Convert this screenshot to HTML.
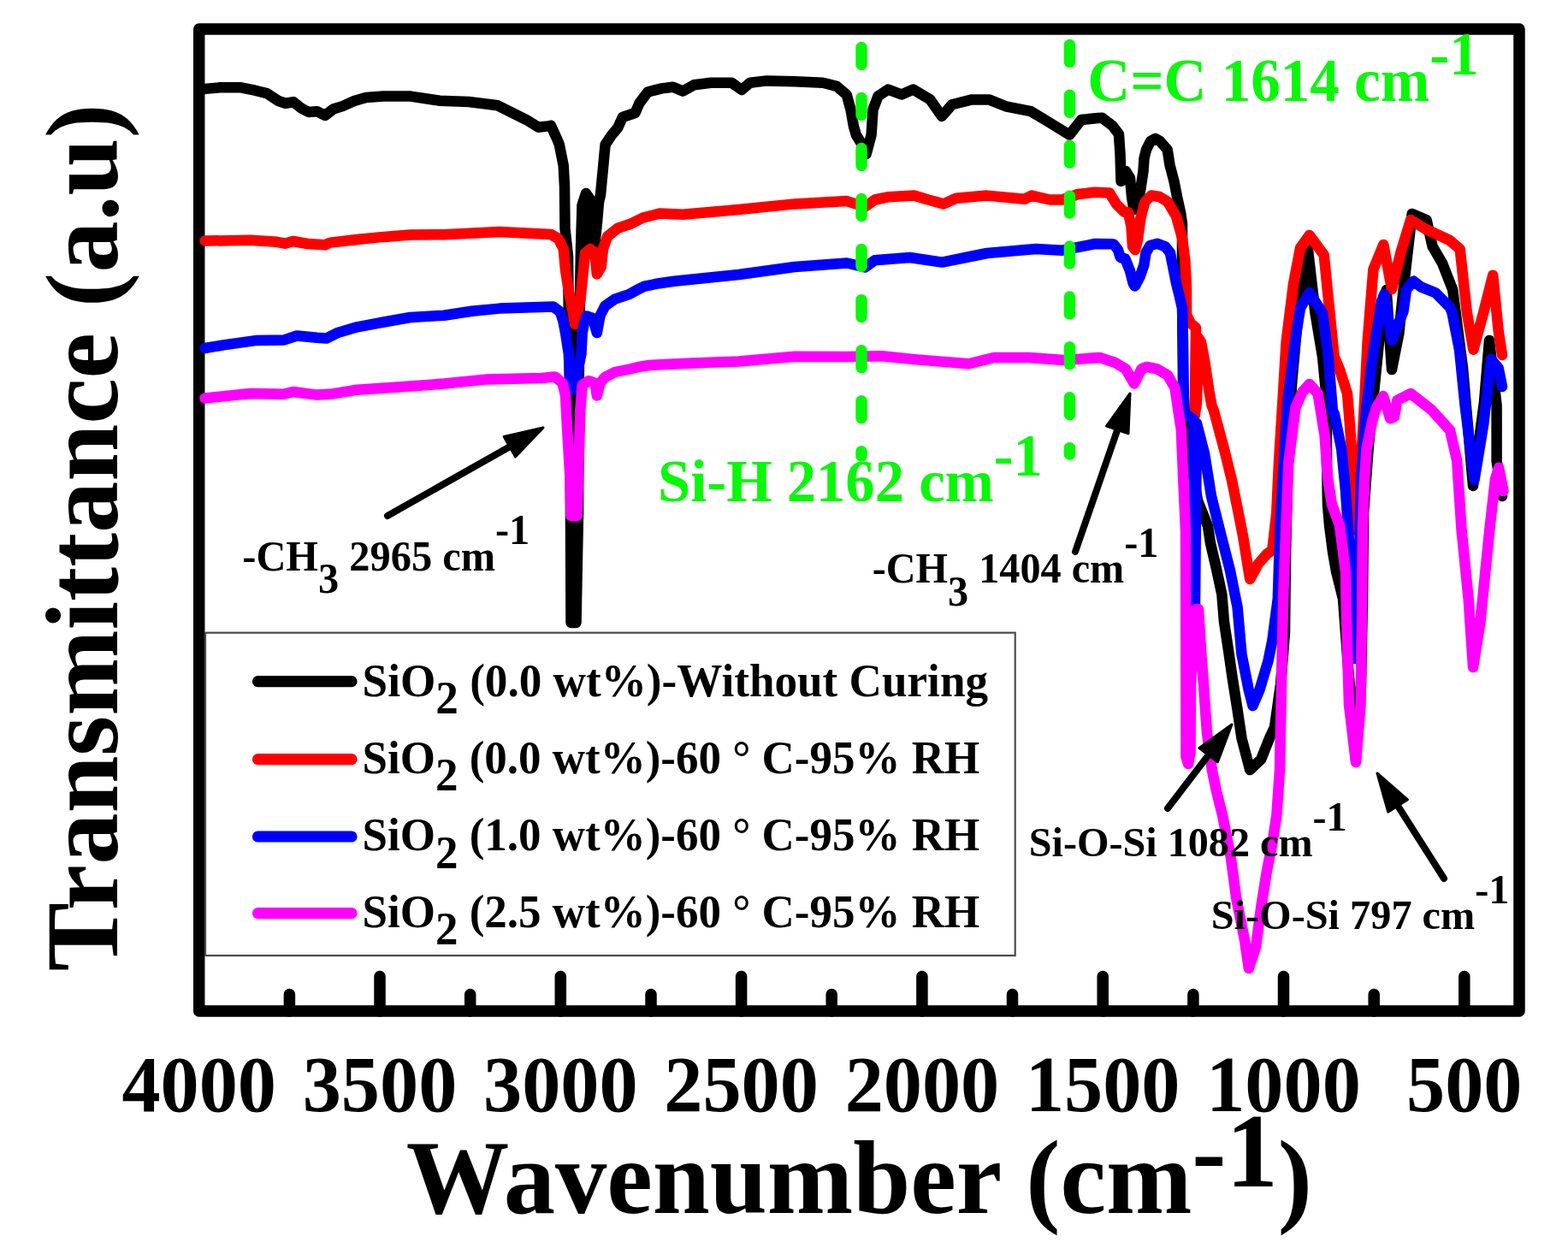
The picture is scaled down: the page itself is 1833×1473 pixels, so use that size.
<!DOCTYPE html>
<html><head><meta charset="utf-8"><title>FTIR spectra</title>
<style>html,body{margin:0;padding:0;background:#fff;overflow:hidden}svg{display:block}</style>
</head><body>
<svg width="1833" height="1473" viewBox="0 0 1833 1473">
<rect width="1833" height="1473" fill="#fff"/>
<rect x="232.7" y="34" width="1543.3" height="1148" fill="none" stroke="#000" stroke-width="13.5" stroke-linejoin="round"/>
<path d="M338.4,1182V1162.5 M444.0,1182V1141.5 M549.7,1182V1162.5 M655.3,1182V1141.5 M761.0,1182V1162.5 M866.6,1182V1141.5 M972.2,1182V1162.5 M1077.9,1182V1141.5 M1183.5,1182V1162.5 M1289.2,1182V1141.5 M1394.9,1182V1162.5 M1500.5,1182V1141.5 M1606.2,1182V1162.5 M1711.8,1182V1141.5" stroke="#000" stroke-width="13.5" stroke-linecap="round" fill="none"/>
<polyline points="239.5,103.9 257.3,102.3 281.8,102.3 298.2,105.7 311.8,109.1 325.5,118.0 333.7,120.7 343.2,119.3 352.7,126.8 360.9,131.0 370.5,130.2 380.0,135.0 389.6,127.5 400.5,124.1 414.1,118.0 427.8,113.9 448.2,112.5 480.0,112.6 514.0,117.7 547.9,119.0 581.8,123.3 598.8,131.8 615.8,140.3 629.4,148.7 641.2,147.4 644.0,146.9 651.4,163.0 653.8,168.9 658.7,193.4 660.0,218.0 660.5,267.0 664.0,300.0 666.5,500.0 667.5,728.0 673.5,728.0 676.0,600.0 677.0,400.0 679.0,290.0 680.5,240.0 685.0,226.0 689.0,232.0 690.0,288.0 692.0,235.0 695.0,288.0 698.0,260.0 700.0,236.0 702.0,228.0 707.6,169.0 715.0,158.0 722.3,149.3 727.8,137.0 742.5,132.0 747.5,120.6 757.3,107.5 773.6,103.4 786.7,101.7 798.2,106.6 811.3,99.3 831.0,96.8 855.5,96.8 867.0,105.0 876.8,96.8 896.4,94.4 929.0,95.2 961.9,96.8 978.2,100.9 989.7,110.7 994.6,128.7 998.0,148.0 1000.9,157.7 1006.8,167.5 1012.7,180.0 1018.6,157.7 1020.5,128.2 1026.4,112.5 1038.2,104.6 1054.0,110.5 1067.7,104.6 1087.3,116.4 1101.0,136.0 1112.8,122.3 1136.4,116.4 1156.0,116.4 1175.7,124.3 1205.0,130.2 1224.8,142.0 1250.3,157.7 1264.0,140.0 1283.7,138.0 1288.3,137.7 1300.5,146.9 1307.9,156.7 1309.5,180.0 1310.5,212.0 1316.0,200.0 1321.0,208.0 1323.0,230.0 1325.5,245.0 1330.0,238.0 1333.5,220.0 1336.5,200.0 1337.5,185.0 1340.0,175.0 1345.0,165.0 1350.6,162.0 1356.0,165.0 1364.7,175.0 1367.5,193.0 1372.5,212.0 1376.0,230.0 1380.0,248.0 1382.0,262.0 1382.0,340.0 1383.0,450.0 1386.0,500.0 1400.0,585.0 1406.0,600.0 1412.0,615.0 1415.0,635.0 1422.0,665.0 1428.4,695.0 1431.0,727.0 1436.0,760.0 1440.6,792.0 1446.6,830.0 1451.5,863.0 1461.2,900.0 1474.3,887.4 1484.0,863.0 1490.0,850.0 1497.0,800.0 1502.0,740.0 1503.0,650.0 1505.0,560.0 1510.0,450.0 1518.0,360.0 1529.0,292.0 1537.5,366.0 1546.0,417.0 1551.0,468.0 1551.0,540.0 1552.0,590.0 1554.0,614.0 1558.0,645.0 1562.0,668.0 1570.0,700.0 1576.0,780.0 1585.0,888.0 1591.0,800.0 1593.0,700.0 1594.0,600.0 1600.0,520.0 1606.0,460.0 1614.0,380.0 1620.7,339.0 1627.0,432.0 1635.4,389.7 1640.5,338.8 1650.7,250.0 1667.7,257.3 1674.5,287.9 1686.3,308.2 1698.2,338.8 1710.0,430.0 1722.0,568.0 1735.0,470.0 1741.0,398.0 1749.6,474.0 1749.6,539.0 1756.0,580.0" fill="none" stroke="#000" stroke-width="12.5" stroke-linejoin="round" stroke-linecap="round"/>
<polyline points="239.5,281.6 292.5,280.8 323.7,282.8 333.0,284.7 342.4,282.0 359.6,285.0 380.0,286.3 386.0,283.6 417.4,280.0 448.6,276.9 479.8,274.5 518.9,274.2 584.0,271.0 644.0,274.0 652.6,279.0 658.7,291.0 661.0,315.6 664.8,340.0 669.7,364.6 672.0,379.0 678.3,352.0 682.0,315.6 684.0,296.0 690.0,291.0 695.4,295.0 697.8,320.5 702.7,312.0 705.0,291.0 710.0,276.5 722.3,266.7 737.0,261.8 751.6,254.5 771.0,249.6 798.2,250.7 863.7,245.0 929.0,238.4 990.0,235.1 1011.3,241.7 1022.7,233.5 1039.0,230.2 1068.6,228.6 1085.0,233.5 1103.0,238.4 1117.7,231.8 1153.7,228.6 1197.9,232.7 1206.0,228.6 1227.3,233.5 1242.0,233.5 1260.0,227.0 1280.0,224.8 1297.0,225.6 1305.5,239.2 1314.0,247.7 1318.9,248.3 1322.5,265.0 1324.0,288.0 1327.0,292.0 1330.0,280.0 1333.5,254.4 1338.4,236.0 1345.7,228.5 1355.5,230.0 1365.0,235.8 1375.0,252.8 1382.0,278.3 1385.3,303.7 1387.0,337.7 1387.0,368.0 1392.0,378.0 1398.0,383.0 1396.7,486.0 1399.0,470.0 1401.0,395.0 1404.0,400.0 1408.2,422.0 1413.4,457.0 1416.5,474.0 1418.9,480.0 1432.0,528.9 1440.0,561.5 1446.6,594.0 1453.0,626.6 1461.2,677.0 1471.0,659.0 1480.8,647.8 1487.3,643.0 1492.2,600.0 1495.0,540.0 1500.0,460.0 1503.6,399.7 1512.0,331.8 1520.0,290.0 1530.7,275.0 1547.7,297.9 1554.5,365.8 1559.6,416.7 1566.0,432.0 1575.0,460.0 1578.0,497.0 1582.6,563.0 1585.0,620.0 1590.0,560.0 1595.2,467.6 1598.6,399.7 1605.4,314.8 1617.3,286.0 1627.0,338.0 1637.6,294.5 1649.0,257.0 1666.0,267.5 1694.8,281.0 1706.7,291.3 1714.8,365.0 1722.4,408.7 1734.3,365.0 1745.2,321.7 1751.7,387.0 1756.0,415.0" fill="none" stroke="#f00" stroke-width="12.5" stroke-linejoin="round" stroke-linecap="round"/>
<polyline points="239.5,407.0 261.2,403.4 300.3,397.9 331.5,397.6 347.0,392.5 370.5,394.8 381.5,395.6 394.0,389.3 417.4,382.3 448.6,376.5 479.8,371.0 518.9,368.7 551.5,363.8 584.0,360.6 646.5,358.4 655.0,364.6 658.7,376.8 661.0,389.0 664.8,413.5 666.0,438.0 671.0,455.0 679.5,413.5 680.7,389.0 683.0,376.8 685.6,369.4 693.0,371.9 697.8,389.0 701.5,369.0 707.3,357.7 718.8,349.6 736.0,343.8 744.2,339.2 753.5,334.6 770.8,331.2 788.0,328.8 810.0,326.5 863.7,321.0 929.0,312.0 990.0,307.5 1011.3,312.4 1022.7,304.2 1063.6,301.0 1101.3,306.6 1129.0,301.0 1153.7,296.0 1211.0,291.1 1242.0,292.7 1280.0,285.0 1297.0,285.2 1301.9,285.5 1306.9,292.0 1309.7,301.0 1315.4,302.6 1321.0,316.7 1324.6,331.0 1326.7,334.5 1332.4,323.8 1337.4,309.6 1339.5,295.5 1344.5,287.0 1353.0,284.8 1362.2,288.4 1367.9,295.5 1370.7,309.6 1375.0,331.0 1378.5,345.0 1382.0,360.0 1383.0,400.0 1384.0,482.0 1395.0,490.0 1397.0,708.0 1399.0,495.0 1408.0,530.0 1416.0,580.0 1426.0,620.0 1438.0,667.0 1446.6,710.0 1451.5,765.0 1459.6,806.0 1464.5,825.0 1472.6,806.0 1482.4,773.0 1487.3,749.0 1493.8,700.0 1497.0,600.0 1505.3,467.6 1513.8,399.7 1520.0,360.0 1530.7,342.0 1546.0,365.8 1552.8,416.7 1557.9,480.0 1560.0,484.4 1568.2,525.0 1573.0,574.0 1576.3,623.0 1581.2,700.0 1584.0,770.0 1588.0,700.0 1591.0,557.7 1597.5,476.0 1604.0,420.0 1615.0,352.3 1618.3,344.0 1627.0,398.0 1640.5,364.0 1644.0,338.8 1652.4,328.6 1661.0,335.4 1678.0,342.2 1694.8,359.0 1697.4,365.0 1706.0,408.7 1712.6,474.0 1723.5,561.0 1734.3,495.6 1743.0,419.6 1751.7,430.4 1756.0,452.0" fill="none" stroke="#00f" stroke-width="12.5" stroke-linejoin="round" stroke-linecap="round"/>
<polyline points="239.5,465.5 292.5,460.0 331.5,460.8 342.4,458.0 370.5,461.6 386.0,460.8 417.4,455.7 479.8,451.4 518.9,448.5 567.8,443.6 633.0,442.0 649.0,440.4 657.5,447.7 661.0,462.4 663.0,500.0 666.5,560.0 667.5,603.0 674.5,603.0 676.0,560.0 678.3,480.0 680.7,450.0 688.0,445.3 695.4,447.7 697.8,462.4 701.5,447.7 707.3,440.8 718.8,435.0 736.0,431.5 745.4,429.2 759.0,427.0 782.3,425.8 810.0,424.6 863.7,422.4 929.0,416.7 990.0,417.1 1031.0,416.3 1071.8,420.4 1132.4,425.3 1161.8,418.0 1202.8,418.0 1243.7,421.0 1285.5,417.9 1303.8,424.0 1316.0,431.3 1325.8,448.4 1334.4,431.3 1340.5,428.9 1352.7,431.3 1365.0,438.6 1373.5,453.3 1377.0,477.7 1380.8,502.0 1383.4,564.0 1386.0,620.0 1386.5,885.0 1389.0,893.0 1391.5,880.0 1392.0,800.0 1396.0,740.0 1398.0,712.0 1401.0,712.0 1404.0,760.0 1407.0,800.0 1409.0,830.0 1411.0,857.0 1417.0,901.0 1422.0,925.0 1428.9,952.6 1438.7,1001.5 1445.2,1050.0 1455.0,1099.0 1459.8,1132.0 1468.0,1107.0 1474.5,1058.5 1481.0,1017.8 1487.5,985.0 1492.4,952.6 1496.0,900.0 1500.0,700.0 1503.0,623.0 1506.3,541.4 1514.4,476.3 1522.6,458.0 1530.7,449.0 1540.5,460.0 1548.6,508.9 1551.9,557.7 1557.0,590.0 1566.0,614.0 1573.0,669.0 1574.0,720.0 1577.0,824.0 1585.0,891.0 1590.5,824.0 1592.0,720.0 1593.0,614.0 1595.0,560.0 1597.5,525.0 1604.0,492.6 1609.0,476.3 1617.0,463.0 1625.2,489.3 1630.0,487.0 1633.3,468.0 1649.0,460.0 1673.3,479.0 1695.0,503.0 1703.2,538.6 1708.6,620.0 1716.8,701.5 1722.0,780.0 1730.3,728.7 1741.2,620.0 1748.0,560.0 1752.0,546.7 1757.5,574.0" fill="none" stroke="#f0f" stroke-width="12.5" stroke-linejoin="round" stroke-linecap="round"/>
<text font-family="'Liberation Serif', 'Times New Roman', serif" font-weight="bold" fill="#000" font-size="50.5" transform="translate(283.28,666.60) scale(0.9584,1)"><tspan>-CH</tspan><tspan dy="26.5">3</tspan><tspan dy="-26.5"> 2965 cm</tspan><tspan dy="-30.4">-1</tspan></text>
<text font-family="'Liberation Serif', 'Times New Roman', serif" font-weight="bold" fill="#000" font-size="50.5" transform="translate(1019.69,681.30) scale(0.9549,1)"><tspan>-CH</tspan><tspan dy="26.5">3</tspan><tspan dy="-26.5"> 1404 cm</tspan><tspan dy="-30.2">-1</tspan></text>
<text font-family="'Liberation Serif', 'Times New Roman', serif" font-weight="bold" fill="#000" font-size="49" transform="translate(1202.75,1000.80) scale(0.9834,1)"><tspan>Si-O-Si 1082 cm</tspan><tspan dy="-30">-1</tspan></text>
<text font-family="'Liberation Serif', 'Times New Roman', serif" font-weight="bold" fill="#000" font-size="49" transform="translate(1415.74,1086.00) scale(0.9859,1)"><tspan>Si-O-Si 797 cm</tspan><tspan dy="-30">-1</tspan></text>
<path d="M1007,55.4V533" stroke="#08f808" stroke-width="13.4" stroke-linecap="round" stroke-dasharray="20 39.04" fill="none"/>
<path d="M1250.4,52.4V531" stroke="#08f808" stroke-width="13.4" stroke-linecap="round" stroke-dasharray="20 38.9" fill="none"/>
<text font-family="'Liberation Serif', 'Times New Roman', serif" font-weight="bold" fill="#08f808" font-size="71.5" transform="translate(1271.34,118.10) scale(0.9659,1)"><tspan>C=C 1614 cm</tspan><tspan dy="-30.7">-1</tspan></text>
<text font-family="'Liberation Serif', 'Times New Roman', serif" font-weight="bold" fill="#08f808" font-size="70.5" transform="translate(769.11,585.70) scale(0.9736,1)"><tspan>Si-H 2162 cm</tspan><tspan dy="-29.6">-1</tspan></text>
<line x1="453" y1="603" x2="597.6" y2="521.2" stroke="#000" stroke-width="8" stroke-linecap="round"/><polygon points="635,500 602.5,533.9 589.2,510.4" fill="#000" stroke="#000" stroke-width="3" stroke-linejoin="round"/>
<line x1="1257" y1="645" x2="1306.9" y2="500.6" stroke="#000" stroke-width="8" stroke-linecap="round"/><polygon points="1321,460 1319.0,506.9 1293.5,498.1" fill="#000" stroke="#000" stroke-width="3" stroke-linejoin="round"/>
<line x1="1365" y1="945" x2="1413.9" y2="881.1" stroke="#000" stroke-width="8" stroke-linecap="round"/><polygon points="1440,847 1423.4,890.9 1401.9,874.5" fill="#000" stroke="#000" stroke-width="3" stroke-linejoin="round"/>
<line x1="1688" y1="1027" x2="1633.0" y2="940.3" stroke="#000" stroke-width="8" stroke-linecap="round"/><polygon points="1610,904 1645.5,934.8 1622.7,949.2" fill="#000" stroke="#000" stroke-width="3" stroke-linejoin="round"/>
<rect x="240" y="739.7" width="946.7" height="377.4" fill="#fff" stroke="#4a4a4a" stroke-width="2.2"/>
<line x1="301.5" y1="796.7" x2="411" y2="796.7" stroke="#000" stroke-width="13.2" stroke-linecap="round"/>
<text font-family="'Liberation Serif', 'Times New Roman', serif" font-weight="bold" fill="#000" font-size="54.5" transform="translate(423.57,813.50) scale(0.9755,1)"><tspan>SiO</tspan><tspan dy="20.7">2</tspan><tspan dy="-20.7"> (0.0 wt%)-Without Curing</tspan></text>
<line x1="301.5" y1="887.7" x2="411" y2="887.7" stroke="#f00" stroke-width="13.2" stroke-linecap="round"/>
<text font-family="'Liberation Serif', 'Times New Roman', serif" font-weight="bold" fill="#000" font-size="54.5" transform="translate(423.58,903.60) scale(0.9721,1)"><tspan>SiO</tspan><tspan dy="20.7">2</tspan><tspan dy="-20.7"> (0.0 wt%)-60 ° C-95% RH</tspan></text>
<line x1="301.5" y1="978" x2="411" y2="978" stroke="#00f" stroke-width="13.2" stroke-linecap="round"/>
<text font-family="'Liberation Serif', 'Times New Roman', serif" font-weight="bold" fill="#000" font-size="54.5" transform="translate(423.58,993.90) scale(0.9721,1)"><tspan>SiO</tspan><tspan dy="20.7">2</tspan><tspan dy="-20.7"> (1.0 wt%)-60 ° C-95% RH</tspan></text>
<line x1="301.5" y1="1067.7" x2="411" y2="1067.7" stroke="#f0f" stroke-width="13.2" stroke-linecap="round"/>
<text font-family="'Liberation Serif', 'Times New Roman', serif" font-weight="bold" fill="#000" font-size="54.5" transform="translate(423.58,1083.60) scale(0.9721,1)"><tspan>SiO</tspan><tspan dy="20.7">2</tspan><tspan dy="-20.7"> (2.5 wt%)-60 ° C-95% RH</tspan></text>
<text font-family="'Liberation Serif', 'Times New Roman', serif" font-weight="bold" font-size="93" text-anchor="middle" transform="translate(232.7,1298.6) scale(0.9707,1)">4000</text>
<text font-family="'Liberation Serif', 'Times New Roman', serif" font-weight="bold" font-size="93" text-anchor="middle" transform="translate(444.0,1298.6) scale(0.9707,1)">3500</text>
<text font-family="'Liberation Serif', 'Times New Roman', serif" font-weight="bold" font-size="93" text-anchor="middle" transform="translate(655.3,1298.6) scale(0.9707,1)">3000</text>
<text font-family="'Liberation Serif', 'Times New Roman', serif" font-weight="bold" font-size="93" text-anchor="middle" transform="translate(866.6,1298.6) scale(0.9707,1)">2500</text>
<text font-family="'Liberation Serif', 'Times New Roman', serif" font-weight="bold" font-size="93" text-anchor="middle" transform="translate(1077.9,1298.6) scale(0.9707,1)">2000</text>
<text font-family="'Liberation Serif', 'Times New Roman', serif" font-weight="bold" font-size="93" text-anchor="middle" transform="translate(1289.2,1298.6) scale(0.9707,1)">1500</text>
<text font-family="'Liberation Serif', 'Times New Roman', serif" font-weight="bold" font-size="93" text-anchor="middle" transform="translate(1500.5,1298.6) scale(0.9707,1)">1000</text>
<text font-family="'Liberation Serif', 'Times New Roman', serif" font-weight="bold" font-size="93" text-anchor="middle" transform="translate(1711.8,1298.6) scale(0.9707,1)">500</text>
<text font-family="'Liberation Serif', 'Times New Roman', serif" font-weight="bold" fill="#000" font-size="123.2" transform="translate(474.84,1417.70) scale(0.9785,1)"><tspan>Wavenumber (cm</tspan><tspan dy="-30.5">-1</tspan><tspan dy="30.5">)</tspan></text>
<text font-family="'Liberation Serif', 'Times New Roman', serif" font-weight="bold" font-size="121.4" transform="translate(137.2,1135.58) rotate(-90) scale(0.9917,1)">Transmittance (a.u)</text>
</svg>
</body></html>
